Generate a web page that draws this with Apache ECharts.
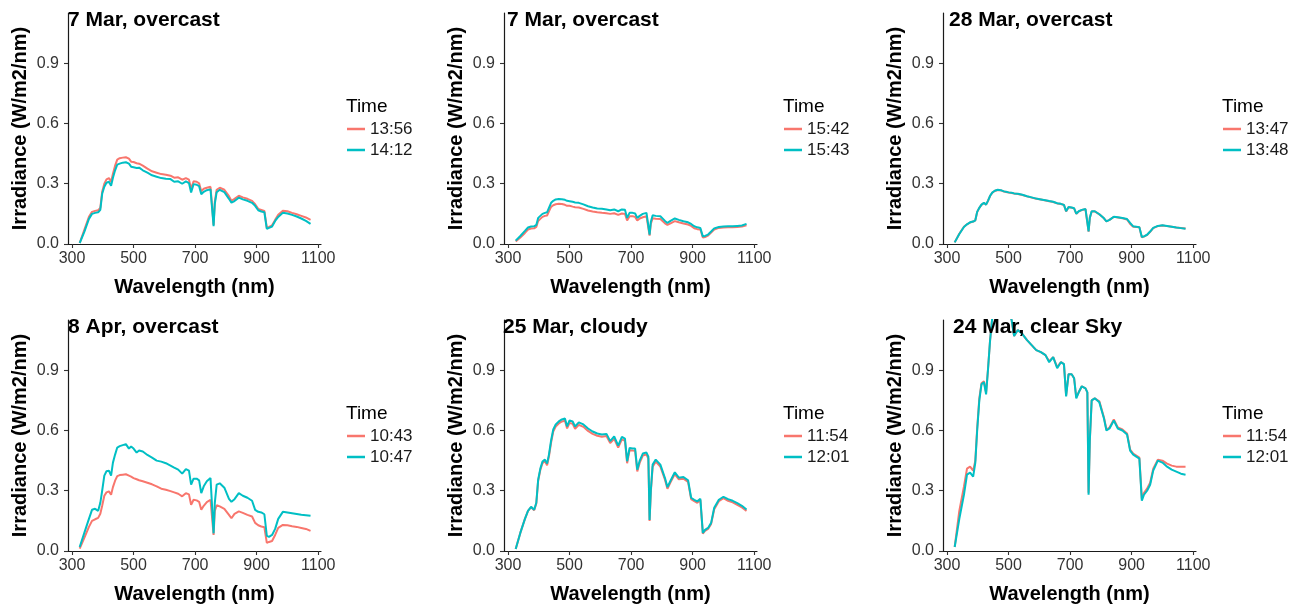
<!DOCTYPE html>
<html><head><meta charset="utf-8">
<script src="https://cdn.jsdelivr.net/npm/echarts@6/dist/echarts.min.js"></script>
<style>html,body{margin:0;padding:0;background:#fff}#c{width:1302px;height:607px}</style>
</head><body><div id="c"></div>
<script>
// ---------------- DATA ----------------
const wavelength = [325,340,355,365,375,385,392,398,405,412,
 420,427,433,440,447,455,465,475,485,492,
 500,510,518,530,545,560,575,590,605,620,
 632,645,658,670,680,687,695,705,713,720,
 728,738,750,756,760,764,770,780,795,810,
 818,828,842,855,870,885,895,905,915,925,
 933,940,950,960,970,985,1000,1015,1030,1045,
 1060,1075];

const irr_7Mar_1356 = [0.005,0.07,0.135,0.16,0.165,0.168,0.18,0.26,0.30,0.322,
 0.328,0.31,0.35,0.39,0.42,0.427,0.43,0.432,0.425,0.41,
 0.408,0.402,0.40,0.39,0.375,0.362,0.355,0.348,0.345,0.34,
 0.33,0.332,0.32,0.328,0.32,0.275,0.312,0.31,0.302,0.262,
 0.275,0.28,0.285,0.28,0.095,0.21,0.27,0.28,0.27,0.238,
 0.215,0.225,0.24,0.232,0.225,0.215,0.198,0.175,0.17,0.165,
 0.08,0.085,0.093,0.12,0.145,0.165,0.163,0.155,0.148,0.14,
 0.132,0.12];
const irr_7Mar_1412 = [0.005,0.06,0.125,0.15,0.155,0.158,0.17,0.25,0.285,0.305,
 0.31,0.29,0.33,0.367,0.395,0.40,0.405,0.407,0.40,0.385,
 0.382,0.378,0.38,0.367,0.355,0.342,0.335,0.328,0.325,0.323,
 0.31,0.312,0.30,0.312,0.303,0.256,0.298,0.295,0.288,0.248,
 0.26,0.268,0.272,0.268,0.089,0.20,0.258,0.27,0.258,0.225,
 0.206,0.214,0.231,0.222,0.215,0.205,0.19,0.168,0.162,0.158,
 0.075,0.08,0.087,0.115,0.135,0.155,0.152,0.145,0.137,0.127,
 0.115,0.10];
const irr_7Mar_1542 = [0.012,0.032,0.055,0.072,0.077,0.078,0.085,0.115,0.125,0.135,
 0.14,0.142,0.163,0.185,0.193,0.198,0.20,0.199,0.195,0.19,
 0.19,0.186,0.183,0.182,0.175,0.167,0.162,0.158,0.155,0.153,
 0.15,0.153,0.145,0.152,0.15,0.117,0.138,0.138,0.135,0.117,
 0.127,0.133,0.138,0.133,0.042,0.10,0.128,0.126,0.124,0.103,
 0.095,0.103,0.114,0.108,0.102,0.097,0.09,0.078,0.074,0.072,
 0.032,0.035,0.042,0.057,0.072,0.08,0.082,0.083,0.083,0.085,
 0.087,0.093];
const irr_7Mar_1543 = [0.017,0.04,0.065,0.082,0.087,0.088,0.095,0.13,0.14,0.15,
 0.155,0.158,0.18,0.205,0.215,0.222,0.224,0.223,0.22,0.215,
 0.213,0.21,0.207,0.205,0.197,0.188,0.182,0.177,0.175,0.172,
 0.168,0.172,0.163,0.172,0.17,0.13,0.155,0.155,0.152,0.13,
 0.14,0.15,0.155,0.15,0.047,0.11,0.143,0.14,0.138,0.115,
 0.105,0.115,0.127,0.12,0.113,0.108,0.10,0.088,0.083,0.08,
 0.038,0.04,0.047,0.062,0.078,0.085,0.087,0.088,0.088,0.09,
 0.092,0.10];
const irr_28Mar_1347 = [0.008,0.051,0.086,0.098,0.107,0.112,0.118,0.159,0.18,0.195,
 0.204,0.196,0.214,0.239,0.255,0.264,0.269,0.267,0.261,0.259,
 0.256,0.254,0.251,0.249,0.244,0.237,0.231,0.225,0.221,0.217,
 0.213,0.209,0.202,0.199,0.194,0.162,0.183,0.181,0.177,0.15,
 0.162,0.169,0.173,0.169,0.062,0.129,0.162,0.162,0.148,0.128,
 0.113,0.12,0.135,0.132,0.128,0.122,0.1,0.086,0.084,0.083,
 0.034,0.037,0.045,0.061,0.079,0.089,0.092,0.089,0.086,0.082,
 0.08,0.077];
const irr_28Mar_1348 = [0.008,0.05,0.085,0.098,0.108,0.112,0.118,0.16,0.18,0.196,
 0.205,0.196,0.215,0.24,0.256,0.265,0.27,0.268,0.262,0.26,
 0.257,0.255,0.252,0.25,0.245,0.238,0.232,0.226,0.222,0.218,
 0.214,0.21,0.203,0.20,0.195,0.163,0.184,0.182,0.178,0.151,
 0.163,0.17,0.174,0.17,0.063,0.13,0.163,0.163,0.148,0.128,
 0.113,0.12,0.136,0.133,0.129,0.124,0.105,0.088,0.086,0.084,
 0.035,0.038,0.046,0.062,0.08,0.09,0.093,0.09,0.086,0.082,
 0.079,0.076];
const irr_8Apr_1043 = [0.012,0.065,0.12,0.15,0.158,0.165,0.185,0.225,0.275,0.292,
 0.297,0.28,0.318,0.35,0.373,0.378,0.38,0.382,0.375,0.37,
 0.363,0.357,0.352,0.347,0.34,0.332,0.322,0.31,0.305,0.298,
 0.292,0.285,0.272,0.288,0.282,0.23,0.255,0.252,0.245,0.205,
 0.225,0.243,0.255,0.25,0.08,0.20,0.228,0.222,0.21,0.18,
 0.163,0.185,0.197,0.19,0.18,0.172,0.14,0.128,0.122,0.118,
 0.04,0.045,0.05,0.08,0.115,0.13,0.128,0.123,0.12,0.115,
 0.11,0.10];
const irr_8Apr_1047 = [0.02,0.09,0.16,0.205,0.21,0.20,0.24,0.30,0.375,0.397,
 0.40,0.375,0.44,0.48,0.515,0.522,0.527,0.532,0.51,0.52,
 0.51,0.49,0.50,0.495,0.478,0.465,0.45,0.445,0.437,0.425,
 0.415,0.405,0.385,0.408,0.40,0.33,0.36,0.36,0.352,0.288,
 0.322,0.347,0.363,0.355,0.088,0.24,0.33,0.337,0.315,0.26,
 0.245,0.258,0.288,0.275,0.265,0.25,0.205,0.195,0.192,0.183,
 0.075,0.07,0.08,0.11,0.16,0.195,0.192,0.188,0.184,0.18,
 0.178,0.175];
const irr_25Mar_1154 = [0.01,0.09,0.16,0.20,0.218,0.203,0.237,0.35,0.403,0.437,
 0.447,0.427,0.47,0.54,0.595,0.62,0.635,0.645,0.648,0.61,
 0.638,0.633,0.608,0.628,0.618,0.598,0.583,0.574,0.569,0.572,
 0.537,0.558,0.515,0.556,0.548,0.437,0.502,0.5,0.499,0.396,
 0.44,0.475,0.48,0.46,0.15,0.293,0.42,0.445,0.42,0.355,
 0.31,0.342,0.383,0.357,0.36,0.344,0.258,0.248,0.24,0.253,
 0.086,0.1,0.11,0.135,0.208,0.248,0.263,0.25,0.242,0.23,
 0.217,0.2];
const irr_25Mar_1201 = [0.01,0.09,0.16,0.20,0.22,0.205,0.24,0.355,0.41,0.445,
 0.455,0.435,0.48,0.55,0.605,0.63,0.645,0.655,0.66,0.62,
 0.65,0.645,0.62,0.64,0.63,0.61,0.595,0.585,0.58,0.583,
 0.547,0.57,0.525,0.568,0.56,0.447,0.513,0.51,0.51,0.405,
 0.45,0.485,0.49,0.47,0.155,0.30,0.43,0.455,0.43,0.363,
 0.318,0.35,0.392,0.365,0.368,0.352,0.265,0.255,0.247,0.26,
 0.09,0.105,0.115,0.14,0.215,0.255,0.27,0.258,0.25,0.238,
 0.225,0.207];
const irr_24Mar_1154 = [0.02,0.20,0.32,0.41,0.42,0.40,0.45,0.61,0.76,0.835,
 0.845,0.79,0.90,1.05,1.16,1.20,1.22,1.22,1.21,1.20,
 1.19,1.15,1.07,1.10,1.08,1.05,1.025,1.00,0.99,0.975,
 0.945,0.965,0.915,0.94,0.93,0.775,0.88,0.88,0.86,0.765,
 0.79,0.82,0.81,0.79,0.29,0.55,0.75,0.76,0.745,0.665,
 0.605,0.615,0.655,0.615,0.605,0.585,0.505,0.485,0.475,0.465,
 0.26,0.29,0.31,0.34,0.41,0.455,0.45,0.435,0.425,0.42,
 0.42,0.42];
const irr_24Mar_1201 = [0.02,0.16,0.28,0.38,0.39,0.37,0.44,0.60,0.75,0.83,
 0.84,0.78,0.90,1.05,1.16,1.20,1.22,1.22,1.21,1.20,
 1.19,1.15,1.07,1.10,1.08,1.05,1.025,1.00,0.99,0.975,
 0.94,0.965,0.91,0.94,0.93,0.77,0.88,0.88,0.86,0.76,
 0.79,0.82,0.81,0.79,0.28,0.55,0.75,0.76,0.74,0.66,
 0.60,0.61,0.65,0.61,0.60,0.58,0.50,0.48,0.47,0.46,
 0.25,0.28,0.30,0.33,0.40,0.45,0.44,0.42,0.405,0.395,
 0.385,0.38];

const panelTitles = ['7 Mar, overcast','7 Mar, overcast','28 Mar, overcast','8 Apr, overcast','25 Mar, cloudy','24 Mar, clear Sky'];
const timeLabels = [['13:56','14:12'],['15:42','15:43'],['13:47','13:48'],['10:43','10:47'],['11:54','12:01'],['11:54','12:01']];
const panelSeries = [[irr_7Mar_1356,irr_7Mar_1412],[irr_7Mar_1542,irr_7Mar_1543],[irr_28Mar_1347,irr_28Mar_1348],
                     [irr_8Apr_1043,irr_8Apr_1047],[irr_25Mar_1154,irr_25Mar_1201],[irr_24Mar_1154,irr_24Mar_1201]];
const xTicks = [300,500,700,900,1100];
const yTicks = [0,0.3,0.6,0.9];
const legendTitle = 'Time';
const xName = 'Wavelength (nm)';
const yName = 'Irradiance (W/m2/nm)';

// ---------------- LAYOUT / STYLE ----------------
const FONT = '"Liberation Sans", Arial, Helvetica, sans-serif';
const COLORS = ['#F8766D', '#00BFC4'];
const gridLeft = [68, 504, 943];
const gridTop = [13, 320];
const gridW = 253, gridH = 231;
const titleX = [68, 507, 949, 68, 503, 953];
const legendX = [347, 784, 1223];

const grids = [], xAxes = [], yAxes = [], series = [], titles = [], legends = [];
for (let i = 0; i < 6; i++) {
  const col = i % 3, row = Math.floor(i / 3);
  const L = gridLeft[col], T = gridTop[row];
  grids.push({left: L, top: T, width: gridW, height: gridH, containLabel: false});
  xAxes.push({
    type: 'value', gridIndex: i, min: 287, max: 1109,
    axisLine: {show: true, onZero: false, lineStyle: {color: '#1a1a1a', width: 1.2}},
    axisTick: {show: true, length: 4, customValues: xTicks, lineStyle: {color: '#333', width: 1.1}},
    axisLabel: {customValues: xTicks, color: '#333', fontSize: 16, fontFamily: FONT, margin: 7,
      formatter: v => String(Math.round(v))},
    splitLine: {show: false},
    name: xName, nameLocation: 'middle', nameGap: 33,
    nameTextStyle: {fontSize: 20, fontWeight: 'bold', color: '#000', fontFamily: FONT}
  });
  yAxes.push({
    type: 'value', gridIndex: i, min: 0, max: 1.15,
    axisLine: {show: true, onZero: false, lineStyle: {color: '#1a1a1a', width: 1.2}},
    axisTick: {show: true, length: 4, customValues: yTicks, lineStyle: {color: '#333', width: 1.1}},
    axisLabel: {customValues: yTicks, color: '#333', fontSize: 16, fontFamily: FONT, margin: 9,
      formatter: v => Number(v).toFixed(1)},
    splitLine: {show: false},
    name: yName, nameLocation: 'middle', nameGap: 38, nameRotate: 90,
    nameTextStyle: {fontSize: 20, fontWeight: 'bold', color: '#000', fontFamily: FONT}
  });
  for (let k = 0; k < 2; k++) {
    const arr = panelSeries[i][k];
    series.push({
      type: 'line', name: timeLabels[i][k], xAxisIndex: i, yAxisIndex: i,
      data: wavelength.map((w, j) => [w, arr[j]]),
      symbol: 'none', showSymbol: false, clip: true, silent: true,
      lineStyle: {color: COLORS[k], width: 2},
      itemStyle: {color: COLORS[k]},
      emphasis: {disabled: true}, animation: false
    });
  }
  titles.push({
    text: panelTitles[i], left: titleX[i], top: T - 3, padding: 0,
    textStyle: {fontSize: 21, fontWeight: 'bold', color: '#000', fontFamily: FONT}
  });
  titles.push({
    text: legendTitle, left: legendX[col] - 1, top: row === 0 ? 97 : 404, padding: 0,
    textStyle: {fontSize: 19, fontWeight: 'normal', color: '#000', fontFamily: FONT}
  });
  legends.push({
    data: timeLabels[i], orient: 'vertical', left: legendX[col], top: row === 0 ? 119 : 426,
    padding: 0, icon: 'rect', itemWidth: 18, itemHeight: 2.5, itemGap: 1, selectedMode: false,
    textStyle: {fontSize: 17, color: '#1a1a1a', fontFamily: FONT, lineHeight: 20}
  });
}

const chart = echarts.init(document.getElementById('c'), null, {renderer: 'canvas'});
chart.setOption({
  animation: false, backgroundColor: '#fff',
  title: titles, legend: legends, grid: grids, xAxis: xAxes, yAxis: yAxes, series: series
});
</script></body></html>
